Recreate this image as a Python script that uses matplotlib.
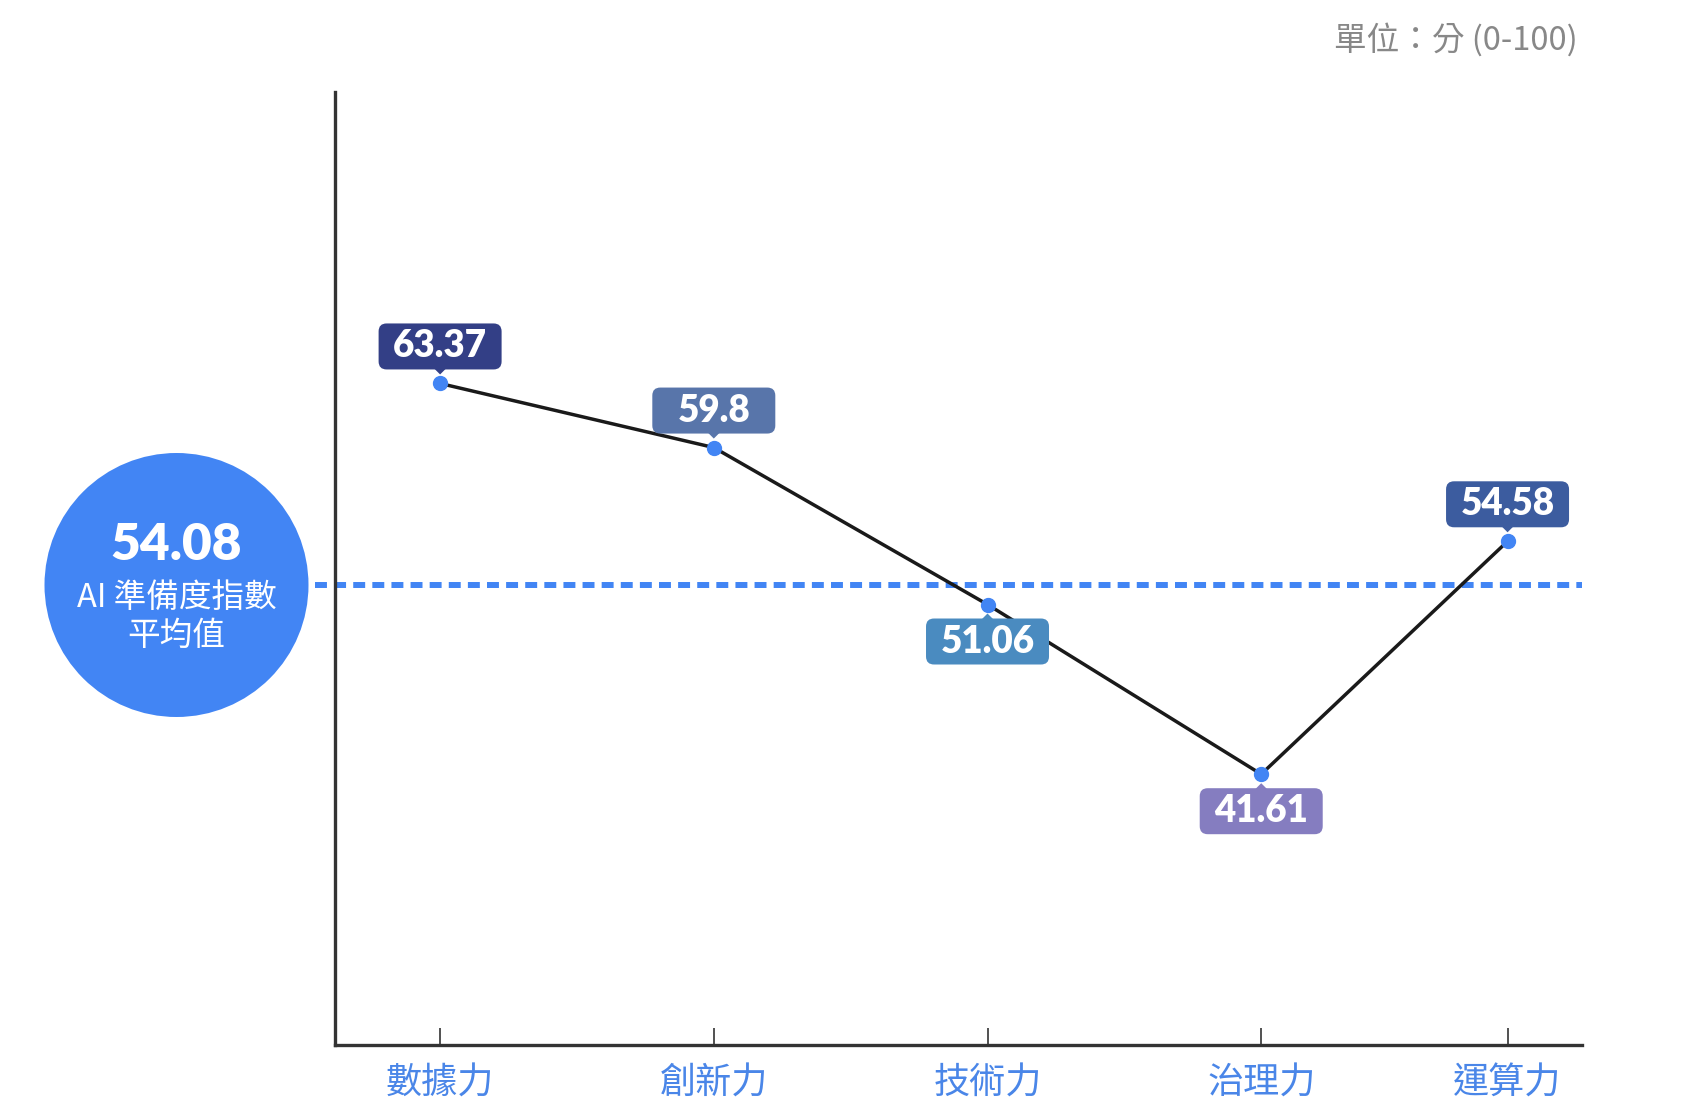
import matplotlib
matplotlib.use('Agg')
import matplotlib.pyplot as plt
from matplotlib.patches import Circle, FancyBboxPatch, Polygon
from matplotlib.transforms import ScaledTranslation

plt.rcParams['font.family'] = ['Noto Sans CJK TC', 'DejaVu Sans']

# Data
categories = ['數據力', '創新力', '技術力', '治理力', '運算力']
scores = [63.37, 59.8, 51.06, 41.61, 54.58]
score_labels = ['63.37', '59.8', '51.06', '41.61', '54.58']
average = 54.08
average_label = '54.08'
# the dashed average line sits a little lower than 54.08 on the drawn scale
average_line_level = 52.15

# Layout helpers (not data)
x_pos = [0, 1, 2, 3, 3.9]
label_above = [True, True, False, False, True]
box_colors = ['#333f86', '#5875aa', '#4a8bc0', '#857dc0', '#3c5c9f']

BLUE = '#4285f4'
AXIS = '#333333'

fig = plt.figure(figsize=(16.84, 11.19), dpi=100)
W, H = 1684, 1119
ax = fig.add_axes([335 / W, 1 - 1045 / H, (1582 - 335) / W, (1045 - 92) / H])

ax.set_xlim(-0.384, 4.172)
ax.set_ylim(26.53, 79.6)

# spines
for side in ['top', 'right']:
    ax.spines[side].set_visible(False)
for side in ['left', 'bottom']:
    ax.spines[side].set_color(AXIS)
    ax.spines[side].set_linewidth(2.4)

ax.set_yticks([])
ax.set_xticks(x_pos)
ax.set_xticklabels(categories)
ax.tick_params(axis='x', direction='in', length=12, width=1.2, color=AXIS,
               pad=15, labelsize=26, labelcolor='#4a86e8')

# average dashed line
ax.axhline(average_line_level, xmin=-0.016, xmax=1, color=BLUE, lw=4.3,
           dashes=(2.0, 1.2), clip_on=False, zorder=2)

# main line with markers
ax.plot(x_pos, scores, color='#1a1a1a', lw=2.5, zorder=3)
ax.plot(x_pos, scores, 'o', color=BLUE, ms=10, zorder=5)

# value labels in fixed-size rounded boxes
bw, bh, gap = 1.23, 0.46, 0.14  # inches
for x, y, txt, above, col in zip(x_pos, scores, score_labels, label_above, box_colors):
    tr = fig.dpi_scale_trans + ScaledTranslation(x, y, ax.transData)
    if above:
        y0 = gap
        tri = [(-0.06, gap + 0.01), (0.06, gap + 0.01), (0, gap - 0.05)]
    else:
        y0 = -gap - bh
        tri = [(-0.06, -gap - 0.01), (0.06, -gap - 0.01), (0, -gap + 0.05)]
    box = FancyBboxPatch((-bw / 2, y0), bw, bh,
                         boxstyle='round,pad=0,rounding_size=0.08',
                         transform=tr, facecolor=col, edgecolor='none',
                         zorder=6, clip_on=False)
    ax.add_patch(box)
    ax.add_patch(Polygon(tri, closed=True, transform=tr, facecolor=col,
                         edgecolor='none', zorder=6, clip_on=False))
    ax.text(0, y0 + bh / 2, txt, transform=tr, ha='center', va='center',
            color='white', fontsize=26.5, fontweight='heavy',
            family=['Lato', 'DejaVu Sans'], zorder=7)

# average circle on the left
cx, cy, r = 176.5 / 100, (H - 585) / 100, 1.32
fig.patches.append(Circle((cx, cy), r, transform=fig.dpi_scale_trans,
                          facecolor=BLUE, edgecolor='none'))
fig.text(cx, (H - 545) / 100, average_label, transform=fig.dpi_scale_trans,
         ha='center', va='center', color='white', fontsize=37,
         fontweight='heavy', family=['Lato', 'DejaVu Sans'])
fig.text(cx, (H - 598) / 100, 'AI 準備度指數', transform=fig.dpi_scale_trans,
         ha='center', va='center', color='white', fontsize=23.5,
         fontweight='medium')
fig.text(cx, (H - 636) / 100, '平均值', transform=fig.dpi_scale_trans,
         ha='center', va='center', color='white', fontsize=23.5,
         fontweight='medium')

# unit note
fig.text(1578 / W, 1 - 40 / H, '單位：分 (0-100)', ha='right', va='center',
         color='#888888', fontsize=23.5)

fig.savefig('out.png', dpi=100)
